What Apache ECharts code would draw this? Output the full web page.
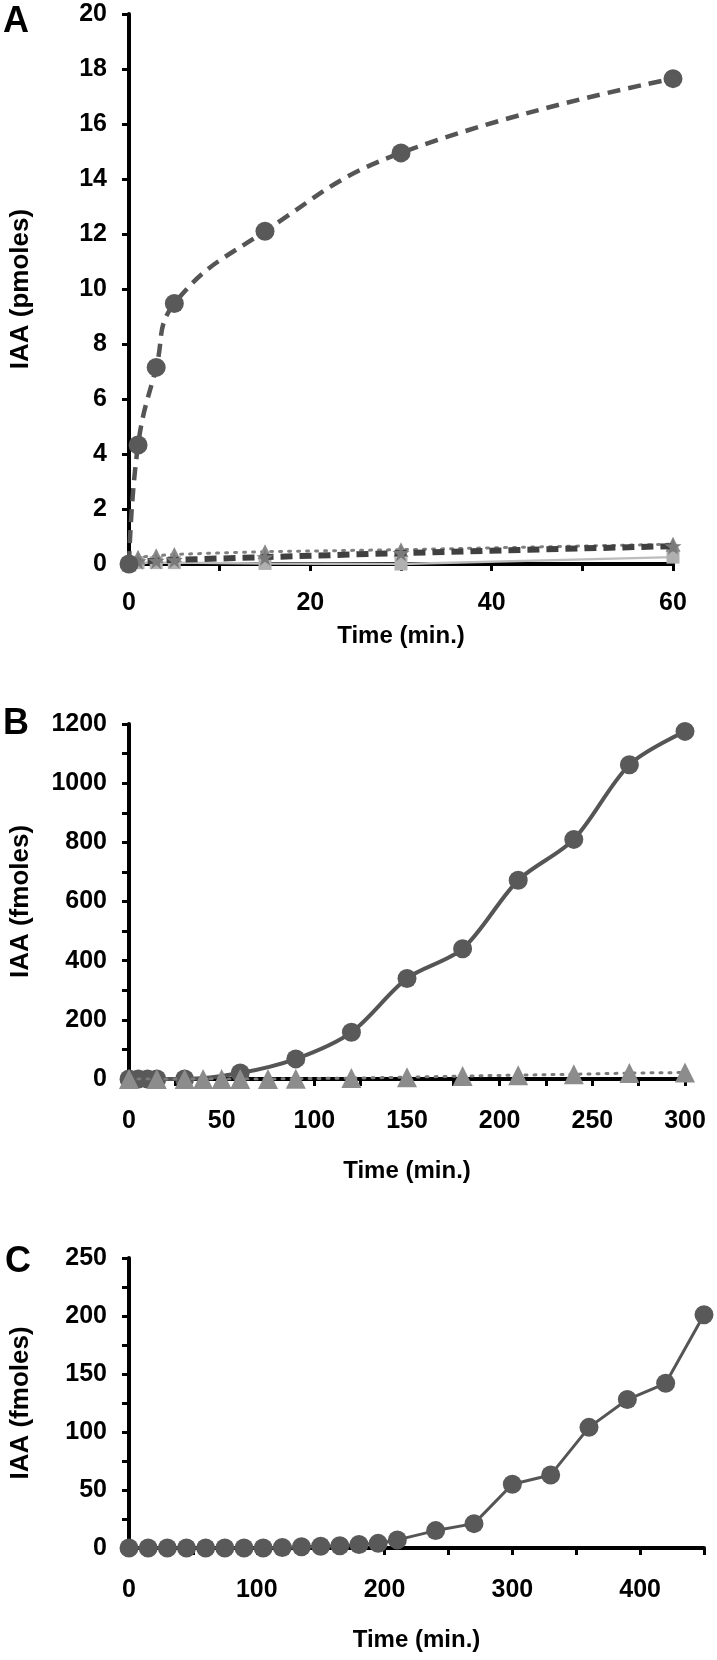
<!DOCTYPE html>
<html>
<head>
<meta charset="utf-8">
<script src="https://cdn.jsdelivr.net/npm/echarts@6/dist/echarts.min.js"></script>
<style>
html,body{margin:0;padding:0;background:#fff;}
#chart{width:717px;height:1660px;}
</style>
</head>
<body>
<div id="chart"></div>
<script>
// ---- Panel A (pmoles, 0-60 min) ----
const timeA = [0, 1, 3, 5, 15, 30, 60];
const iaaA_main = [0, 4.33, 7.15, 9.47, 12.1, 14.95, 17.65];
const iaaA_dash = [0, 0.1, 0.12, 0.15, 0.25, 0.4, 0.65];
const iaaA_dot = [0, 0.25, 0.3, 0.35, 0.45, 0.52, 0.72];
const iaaA_light = [0, 0.05, 0.05, 0.05, 0.02, 0.0, 0.25];

// ---- Panel B (fmoles, 0-300 min) ----
const timeB = [0, 5, 10, 15, 30, 60, 90, 120, 150, 180, 210, 240, 270, 300];
const iaaB_main = [0, 0, 0, 0, 0, 20, 68, 158, 340, 440, 672, 810, 1062, 1175];
const timeB_tri = [0, 15, 30, 40, 50, 60, 75, 90, 120, 150, 180, 210, 240, 270, 300];
const iaaB_tri = [0, 0, 0, 0, 0, 0, 0, 1, 3, 6, 10, 13, 16, 20, 22];

// ---- Panel C (fmoles, 0-450 min) ----
const timeC = [0, 15, 30, 45, 60, 75, 90, 105, 120, 135, 150, 165, 180, 195, 210, 240, 270, 300, 330, 360, 390, 420, 450];
const iaaC = [0, 0, 0, 0, 0, 0, 0, 0, 0.5, 1, 1.5, 2, 3, 4, 7, 15, 21, 55, 63, 104, 128, 142, 201];

const pairs = (xs, ys) => xs.map((x, i) => [x, ys[i]]);

const FONT = "'Liberation Sans',Arial,sans-serif";
const STAR = 'path://M50,0 L61,35 L98,35 L68,57 L79,91 L50,70 L21,91 L32,57 L2,35 L39,35 Z';

function xAxis(gi, max, interval, labelEvery, margin, nameGap) {
  return {
    type: 'value', gridIndex: gi, min: 0, max: max, interval: interval,
    name: 'Time (min.)', nameLocation: 'middle', nameGap: nameGap,
    nameTextStyle: {fontFamily: FONT, fontWeight: 'bold', fontSize: 24, color: '#000'},
    axisLine: {show: true, onZero: false, lineStyle: {color: '#000', width: 4}},
    axisTick: {show: true, inside: false, length: 7, lineStyle: {color: '#000', width: 3}},
    axisLabel: {show: true, margin: margin, fontFamily: FONT, fontWeight: 'bold', fontSize: 25, color: '#000',
      formatter: v => (Math.round(v) % labelEvery === 0 ? String(v) : '')},
    splitLine: {show: false}
  };
}
function yAxis(gi, max, interval, labelEvery, name) {
  return {
    type: 'value', gridIndex: gi, min: 0, max: max, interval: interval,
    name: name, nameLocation: 'middle', nameGap: 95, nameRotate: 90,
    nameTextStyle: {fontFamily: FONT, fontWeight: 'bold', fontSize: 26, color: '#000'},
    axisLine: {show: true, lineStyle: {color: '#000', width: 4}},
    axisTick: {show: true, inside: false, length: 7, lineStyle: {color: '#000', width: 3}},
    axisLabel: {show: true, margin: 22, fontFamily: FONT, fontWeight: 'bold', fontSize: 25, color: '#000',
      formatter: v => (Math.round(v) % labelEvery === 0 ? String(v) : '')},
    splitLine: {show: false}
  };
}

const chart = echarts.init(document.getElementById('chart'), null, {renderer: 'canvas'});
chart.setOption({
  animation: false,
  backgroundColor: '#fff',
  grid: [
    {left: 125, top: 14, width: 548, height: 550},
    {left: 125, top: 724, width: 560, height: 355},
    {left: 125, top: 1258, width: 579, height: 290}
  ],
  xAxis: [
    xAxis(0, 60, 10, 20, 27, 60),
    xAxis(1, 300, 25, 50, 30, 80),
    xAxis(2, 450, 50, 100, 30, 80)
  ],
  yAxis: [
    yAxis(0, 20, 2, 2, 'IAA (pmoles)'),
    yAxis(1, 1200, 100, 200, 'IAA (fmoles)'),
    yAxis(2, 250, 25, 50, 'IAA (fmoles)')
  ],
  graphic: [
    {type: 'text', left: 3, top: 4, style: {text: 'A', fontFamily: FONT, fontWeight: 'bold', fontSize: 36, fill: '#000'}},
    {type: 'text', left: 3, top: 706, style: {text: 'B', fontFamily: FONT, fontWeight: 'bold', fontSize: 36, fill: '#000'}},
    {type: 'text', left: 5, top: 1244, style: {text: 'C', fontFamily: FONT, fontWeight: 'bold', fontSize: 36, fill: '#000'}}
  ],
  series: [
    // Panel A
    {type: 'line', xAxisIndex: 0, yAxisIndex: 0, data: pairs(timeA, iaaA_light),
      lineStyle: {color: '#bdbdbd', width: 2.5}, symbol: 'rect', symbolSize: 13,
      itemStyle: {color: '#b0b0b0'}, z: 3},
    {type: 'line', xAxisIndex: 0, yAxisIndex: 0, data: pairs(timeA, iaaA_dot),
      lineStyle: {color: '#808080', width: 3, type: [2, 7], cap: 'round'}, symbol: 'triangle', symbolSize: 15,
      itemStyle: {color: '#8a8a8a'}, z: 4},
    {type: 'line', xAxisIndex: 0, yAxisIndex: 0, data: pairs(timeA, iaaA_dash),
      lineStyle: {color: '#404040', width: 6, type: [12, 7]}, symbol: STAR, symbolSize: 17,
      itemStyle: {color: '#7a7a7a'}, z: 5},
    {type: 'line', xAxisIndex: 0, yAxisIndex: 0, data: pairs(timeA, iaaA_main), smooth: 0.45,
      lineStyle: {color: '#555555', width: 4.5, type: [13, 8]}, symbol: 'circle', symbolSize: 19,
      itemStyle: {color: '#595959'}, z: 6},
    // Panel B
    {type: 'line', xAxisIndex: 1, yAxisIndex: 1, data: pairs(timeB, iaaB_main), smooth: 0.3,
      lineStyle: {color: '#555555', width: 4}, symbol: 'circle', symbolSize: 19,
      itemStyle: {color: '#595959'}, z: 5},
    {type: 'line', xAxisIndex: 1, yAxisIndex: 1, data: pairs(timeB_tri, iaaB_tri),
      lineStyle: {color: '#7a7a7a', width: 3, type: [2, 7], cap: 'round'}, symbol: 'triangle', symbolSize: 20,
      itemStyle: {color: '#8c8c8c'}, z: 6},
    // Panel C
    {type: 'line', xAxisIndex: 2, yAxisIndex: 2, data: pairs(timeC, iaaC),
      lineStyle: {color: '#555555', width: 3}, symbol: 'circle', symbolSize: 19,
      itemStyle: {color: '#595959'}, z: 5}
  ]
});
</script>
</body>
</html>
